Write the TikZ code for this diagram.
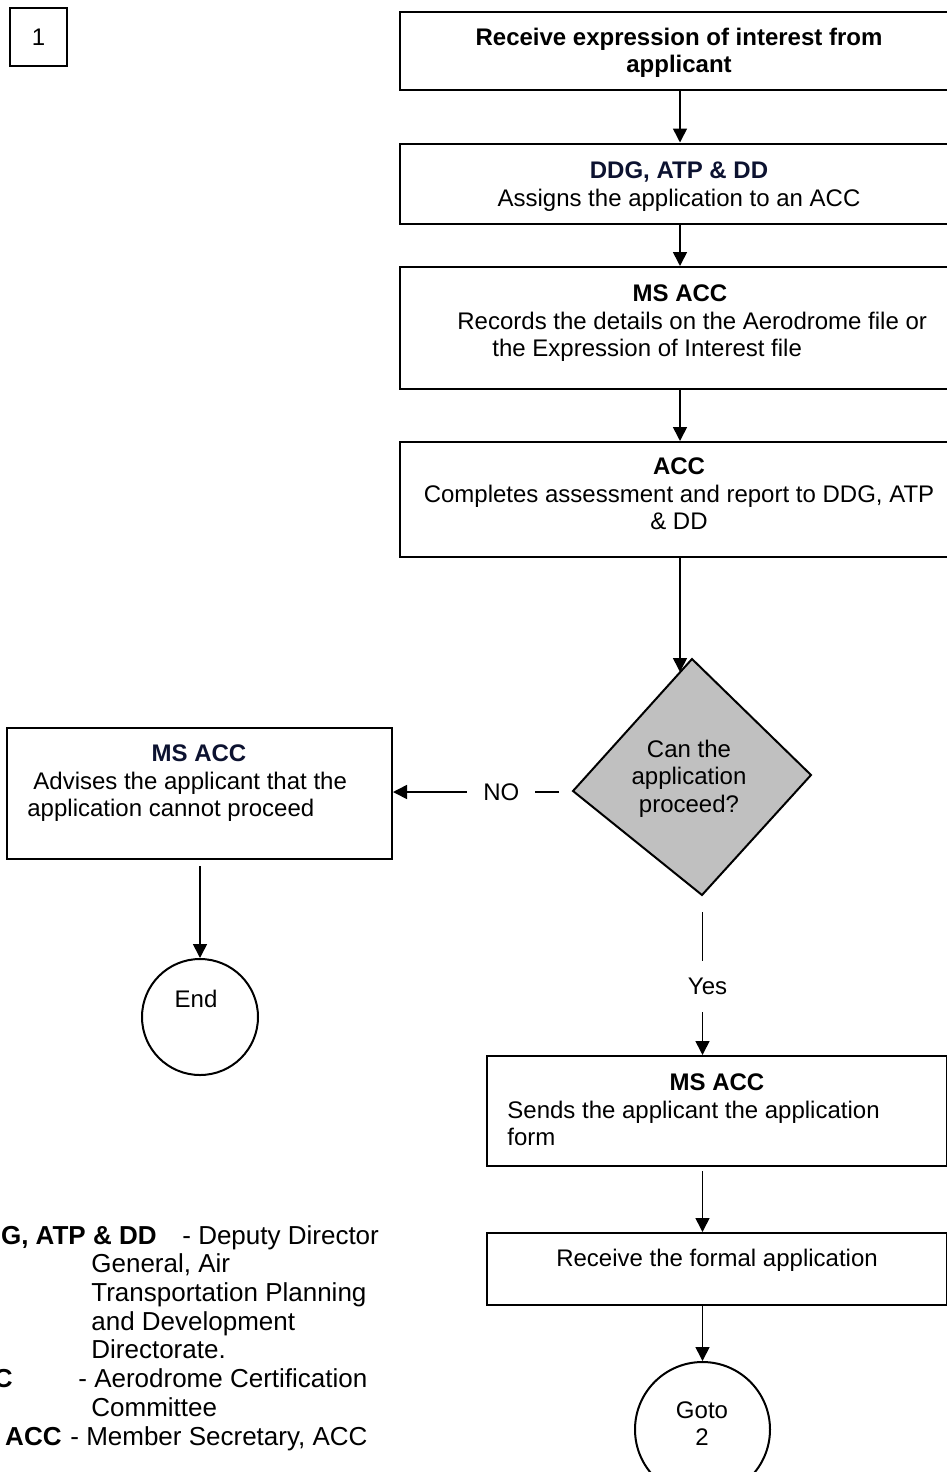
\documentclass[tikz,border=0pt]{standalone}
\usepackage{fontspec}
\setmainfont{Liberation Sans}
\usetikzlibrary{arrows.meta}
\definecolor{navytext}{RGB}{12,18,48}
\definecolor{dgray}{RGB}{192,192,192}
\begin{document}
\begin{tikzpicture}[x=0.5pt,y=-0.5pt,
  box/.style={draw,line width=1pt,rectangle,inner sep=0pt},
  txt/.style={inner sep=0pt,font=\fontsize{12}{13.8}\selectfont},
  tb/.style={txt,anchor=base},
  tl/.style={txt,anchor=base west},
  conn/.style={line width=0.8pt,-{Triangle[width=7pt,length=7pt]}},
  leg/.style={inner sep=0pt,font=\fontsize{13}{14.4}\selectfont,anchor=base west}]
\useasboundingbox (0,0) rectangle (947,1472);
\clip (0,0) rectangle (947,1472);
% columns
\coordinate (colL) at (680,0);
\coordinate (colR) at (702.5,0);
% boxes
\node[box,txt,minimum width=28.5pt,minimum height=29pt] (one) at (38.5,37) {1};
\node[box,minimum width=279pt,minimum height=39pt] (A) at (679,51) {};
\node[box,minimum width=279pt,minimum height=40pt] (B) at (679,183.5) {};
\node[box,minimum width=279pt,minimum height=61pt] (C) at (679,328) {};
\node[box,minimum width=279pt,minimum height=57.5pt] (D) at (679,499.5) {};
\node[box,minimum width=192.5pt,minimum height=65.5pt] (E) at (199.5,793.5) {};
\node[box,minimum width=230pt,minimum height=55pt] (F) at (717,1111) {};
\node[box,minimum width=230pt,minimum height=36pt] (G) at (717,1269) {};
\node[box,circle,minimum size=58pt] (End) at (200,1017) {};
\node[box,circle,minimum size=67.5pt] (Goto) at (702.5,1429.5) {};
% diamond
\coordinate (dT) at (692,659);
\coordinate (dL) at (573,791);
\coordinate (dB) at (702,895);
\coordinate (dR) at (811,775);
\coordinate (dIn) at (680,672);
\filldraw[fill=dgray,line width=1pt,line join=miter] (dT) -- (dR) -- (dB) -- (dL) -- cycle;
% texts
\node[tb] (A1) at (679,45) {\textbf{Receive expression of interest from}};
\node[tb] (A2) at (679,72.6) {\textbf{applicant}};
\node[tb,text=navytext] (B1) at (679,178.6) {\textbf{DDG, ATP \& DD}};
\node[tb] (B2) at (679,206.2) {Assigns the application to an ACC};
\node[tb] (C1) at (680,301.6) {\textbf{MS ACC}};
\node[tl] (C2) at (457,329.2) {Records the details on the Aerodrome file or};
\node[tl] (C3) at (492,356.8) {the Expression of Interest file};
\node[tb] (D1) at (679,474.6) {\textbf{ACC}};
\node[tb] (D2) at (679,502.2) {Completes assessment and report to DDG, ATP};
\node[tb] (D3) at (679,529.8) {\& DD};
\node[tb,text=navytext] (E1) at (199,761.6) {\textbf{MS ACC}};
\node[tl] (E2) at (33,789.2) {Advises the applicant that the};
\node[tl] (E3) at (27,816.8) {application cannot proceed};
\node[tb] (F1) at (717,1090.6) {\textbf{MS ACC}};
\node[tl] (F2) at (507,1118.2) {Sends the applicant the application};
\node[tl] (F3) at (507,1145.8) {form};
\node[tb] (G1) at (717,1266) {Receive the formal application};
\node[tb] (Q1) at (689,757) {Can the};
\node[tb] (Q2) at (689,784.6) {application};
\node[tb] (Q3) at (689,812.2) {proceed?};
\node[tb] (End1) at (196,1007) {End};
\node[tb] (Goto1) at (702,1418) {Goto};
\node[tb] (Goto2) at (702,1445.6) {2};
% connectors
\draw[conn] (A.south -| colL) -- (B.north -| colL);
\draw[conn] (B.south -| colL) -- (C.north -| colL);
\draw[conn] (C.south -| colL) -- (D.north -| colL);
\draw[conn] (D.south -| colL) -- (dIn);
\coordinate (noS) at (559,792);
\draw[conn] (noS) -- node[pos=0.347,txt,fill=white,inner xsep=8pt,inner ysep=2pt] (NO) {NO} (E.east |- noS);
\coordinate (yesS) at (702.5,912);
\draw[conn] (yesS) -- node[pos=0.52,txt,fill=white,inner ysep=8.5pt,inner xsep=2pt,xshift=2.5pt] (Yes) {Yes} (F.north -| yesS);
\draw[conn,shorten <=3pt] (E.south -| End.north) -- (End.north);
\draw[conn,shorten <=2pt] (F.south -| colR) -- (G.north -| colR);
\draw[conn] (G.south -| colR) -- (Goto.north);
% legend
\node[leg,anchor=base east] (L1a) at (157,1244) {\textbf{DDG, ATP \& DD}};
\node[leg] (L1b) at (182,1244) {- Deputy Director};
\node[leg] (L2) at (91,1272.7) {General, Air};
\node[leg] (L3) at (91,1301.4) {Transportation Planning};
\node[leg] (L4) at (91,1330.1) {and Development};
\node[leg] (L5) at (91,1358.8) {Directorate.};
\node[leg,anchor=base east] (L6a) at (13,1387.5) {\textbf{ACC}};
\node[leg] (L6b) at (78,1387.5) {- Aerodrome Certification};
\node[leg] (L7) at (91,1416.2) {Committee};
\node[leg,anchor=base east] (L8a) at (62,1445) {\textbf{MS ACC}};
\node[leg] (L8b) at (70,1445) {- Member Secretary, ACC};
\end{tikzpicture}
\end{document}
